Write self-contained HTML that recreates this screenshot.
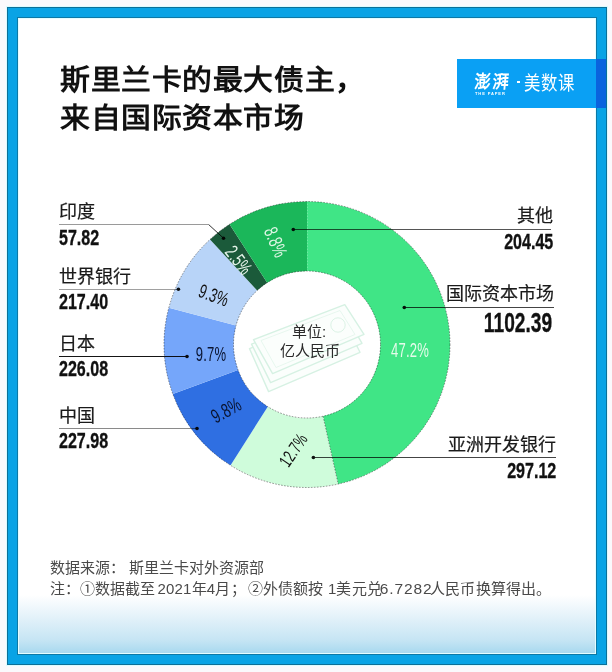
<!DOCTYPE html>
<html lang="zh-CN"><head><meta charset="utf-8">
<style>
*{margin:0;padding:0;box-sizing:border-box}
html,body{width:612px;height:672px;overflow:hidden;background:#faf9fc;font-family:"Liberation Sans",sans-serif}
#frame{position:absolute;left:7px;top:7px;width:600px;height:658px;background:#0c6f98;box-shadow:0 0 0 1px #dcfbff}
#band{position:absolute;left:8px;top:8px;width:598px;height:656px;background:#09a3e5}
#iline{position:absolute;left:17px;top:17px;width:580px;height:638px;background:#0c78a6}
#inner{position:absolute;left:18px;top:18px;width:578px;height:636px;box-shadow:inset 0 0 0 1px #e4fdff;background:linear-gradient(to bottom,#fff 0,#fff 577px,#e6f3fa 597px,#c6e5f4 622px,#a6d8ef 636px)}
.t{position:absolute;white-space:nowrap}
.title{left:60px;font-size:28px;font-weight:bold;color:#111;line-height:36px;letter-spacing:0.7px;transform:scaleX(1.065);transform-origin:0 0}
.lab{font-size:18px;color:#1a1a1a;line-height:20px;-webkit-text-stroke:0.2px #1a1a1a}
.num{font-size:22px;font-weight:bold;color:#111;-webkit-text-stroke:0.35px #111;line-height:24px;transform-origin:0 0;transform:scaleX(0.73)}
.numr{transform-origin:100% 0}
.pct{position:absolute;white-space:nowrap;font-size:19.5px;line-height:20px;height:20px;letter-spacing:0.3px}
.cen{font-size:15px;line-height:17px;color:#2a2a2a}
.foot{font-size:15px;color:#4a4a4a;line-height:20px;letter-spacing:0.2px}
#logo{position:absolute;left:457px;top:59px;width:139px;height:49px;background:#0aa0f4}
#strip{position:absolute;left:596px;top:59px;width:10px;height:49px;background:#0a63de}
</style></head><body>
<div id="frame"></div>
<div id="band"></div>
<div id="iline"></div>
<div id="inner"></div>
<div class="t title" style="top:63px">斯里兰卡的最大债主，</div>
<div class="t title" style="top:101px">来自国际资本市场</div>
<div id="logo"><div class="t" style="left:18px;top:12px;color:#fff;font-size:18px;line-height:22px;font-weight:bold;letter-spacing:3px;transform:skewX(-5deg) scaleX(0.9);transform-origin:0 0">澎湃</div><div class="t" style="left:18px;top:33px;color:#fff;font-size:4px;line-height:4px;letter-spacing:0.9px;font-weight:bold">THE PAPER</div><div class="t" style="left:60px;top:22px;width:3px;height:2px;background:#fff"></div><div class="t" style="left:67px;top:13px;color:#fff;font-size:19.5px;line-height:22px;transform:scaleX(0.84);transform-origin:0 0">美数课</div></div>
<div id="strip"></div>
<svg style="position:absolute;left:0;top:0" width="612" height="672">
<path d="M307.00,201.50 A143,143 0 0 1 338.19,484.06 L323.03,416.23 A73.5,73.5 0 0 0 307.00,271.00 Z" fill="#40e586"/>
<path d="M338.19,484.06 A143,143 0 0 1 230.59,465.37 L267.73,406.63 A73.5,73.5 0 0 0 323.03,416.23 Z" fill="#cffcdb"/>
<path d="M230.59,465.37 A143,143 0 0 1 172.80,393.88 L238.02,369.88 A73.5,73.5 0 0 0 267.73,406.63 Z" fill="#2f6fe2"/>
<path d="M172.80,393.88 A143,143 0 0 1 168.81,307.73 L235.97,325.60 A73.5,73.5 0 0 0 238.02,369.88 Z" fill="#75a6fa"/>
<path d="M168.81,307.73 A143,143 0 0 1 210.02,239.41 L257.16,290.48 A73.5,73.5 0 0 0 235.97,325.60 Z" fill="#b8d4f8"/>
<path d="M210.02,239.41 A143,143 0 0 1 229.54,224.30 L267.18,282.72 A73.5,73.5 0 0 0 257.16,290.48 Z" fill="#1b5a3a"/>
<path d="M229.54,224.30 A143,143 0 0 1 307.00,201.50 L307.00,271.00 A73.5,73.5 0 0 0 267.18,282.72 Z" fill="#1bb75a"/>
<line x1="323.03" y1="416.23" x2="338.19" y2="484.06" stroke="#1a1a1a" stroke-width="0.9" stroke-dasharray="1.6 1.4" opacity="0.5"/>
<line x1="307.5" y1="271.00" x2="307.5" y2="201.50" stroke="#8eedb4" stroke-width="1" stroke-dasharray="1.4 1.6" opacity="0.6"/>
<circle cx="307" cy="344.5" r="143" fill="none" stroke="#1a1a1a" stroke-width="0.9" stroke-dasharray="1.6 1.4" opacity="0.5"/>
<circle cx="307" cy="344.5" r="73.5" fill="none" stroke="#1a1a1a" stroke-width="0.9" stroke-dasharray="1.6 1.4" opacity="0.5"/>
</svg>
<svg style="position:absolute;left:0;top:0;mix-blend-mode:multiply" width="612" height="672">
<polyline points="59,224.5 208.6,224.5" fill="none" stroke="#9a9a9a" stroke-width="1"/>
<polyline points="208.6,224.5 223.5,238.2" fill="none" stroke="#333" stroke-width="1"/>
<circle cx="223.5" cy="238.2" r="1.8" fill="#111"/>
<line x1="59" y1="289.5" x2="178.4" y2="289.5" stroke="#a0a0a0" stroke-width="1"/>
<circle cx="178.4" cy="289.3" r="1.8" fill="#111"/>
<line x1="59" y1="356.5" x2="187" y2="356.5" stroke="#151515" stroke-width="1"/>
<circle cx="187" cy="356.5" r="1.8" fill="#111"/>
<line x1="59" y1="428.5" x2="197" y2="428.5" stroke="#8a8a8a" stroke-width="1"/>
<circle cx="197" cy="428.5" r="1.8" fill="#111"/>
<line x1="293.3" y1="229.5" x2="551" y2="229.5" stroke="#555" stroke-width="1"/>
<circle cx="293.3" cy="229.5" r="1.8" fill="#111"/>
<line x1="404.3" y1="307.5" x2="554" y2="307.5" stroke="#444" stroke-width="1"/>
<circle cx="404.3" cy="307.5" r="1.8" fill="#111"/>
<line x1="313.4" y1="457.5" x2="556" y2="457.5" stroke="#444" stroke-width="1"/>
<circle cx="313.4" cy="457.5" r="1.8" fill="#111"/>
</svg>
<svg style="position:absolute;left:0;top:0" width="612" height="672">
<g fill="#fbfefc" stroke="#d6f1e3" stroke-width="1.4" stroke-linejoin="round">
<polygon points="249.5,348.6 340.8,313.6 360,352.3 268.6,391.6"/>
<polygon points="251.5,344.1 342.8,309.1 362,343.3 270.6,382.6"/>
<polygon points="253.5,339.6 344.8,304.6 364,334.3 272.6,373.6"/>
<polygon points="261,340.5 340,310.5 355,334.5 276,367.5" fill="none" stroke-width="0.8" stroke="#e2f5eb"/>
<circle cx="338" cy="325" r="7.2" fill="none" stroke-width="1" stroke="#dcf3e6"/>
</g>
</svg>
<div class="t cen" style="left:292px;top:323px">单位:</div>
<div class="t cen" style="left:280px;top:342px">亿人民币</div>
<div class="t lab" style="left:59px;top:202.3px">印度</div>
<div class="t num" style="left:59px;top:225.8px">57.82</div>
<div class="t lab" style="left:59px;top:266.8px">世界银行</div>
<div class="t num" style="left:59px;top:290.3px">217.40</div>
<div class="t lab" style="left:59px;top:333.9px">日本</div>
<div class="t num" style="left:59px;top:357.4px">226.08</div>
<div class="t lab" style="left:59px;top:405.9px">中国</div>
<div class="t num" style="left:59px;top:429.3px">227.98</div>
<div class="t lab" style="right:59.1px;top:205.9px">其他</div>
<div class="t num numr" style="right:58.6px;top:229.8px;font-size:22px;transform:scaleX(0.73)">204.45</div>
<div class="t lab" style="right:58.1px;top:284.2px">国际资本市场</div>
<div class="t num numr" style="right:59.5px;top:311.3px;font-size:27px;transform:scaleX(0.71)">1102.39</div>
<div class="t lab" style="right:56.1px;top:435.4px">亚洲开发银行</div>
<div class="t num numr" style="right:56.1px;top:459.3px;font-size:22px;transform:scaleX(0.73)">297.12</div>
<div class="pct" style="left:410px;top:349.8px;color:#e4fbea;transform:translate(-50%,-50%) rotate(0deg) scale(0.670,1)">47.2%</div>
<div class="pct" style="left:293px;top:450.3px;color:#111;transform:translate(-50%,-50%) rotate(-56deg) scale(0.623,0.93)">12.7%</div>
<div class="pct" style="left:226px;top:410px;color:#0a1430;transform:translate(-50%,-50%) rotate(-29deg) scale(0.683,1.02)">9.8%</div>
<div class="pct" style="left:211.3px;top:354px;color:#0a1430;transform:translate(-50%,-50%) rotate(0deg) scale(0.670,1)">9.7%</div>
<div class="pct" style="left:214.2px;top:295.3px;color:#111;transform:translate(-50%,-50%) rotate(20deg) scale(0.670,1)">9.3%</div>
<div class="pct" style="left:239px;top:259.5px;color:#e6f4ea;transform:translate(-50%,-50%) rotate(52deg) scale(0.670,1)">2.5%</div>
<div class="pct" style="left:276px;top:242px;color:#e0f7e6;transform:translate(-50%,-50%) rotate(67deg) scale(0.670,1)">8.8%</div>
<div class="t foot" style="left:50.3px;top:558px;letter-spacing:0">数据来源：</div>
<div class="t foot" style="left:128.8px;top:558px;letter-spacing:0">斯里兰卡对外资源部</div>
<div class="t foot" style="left:49.8px;top:579px">注：</div>
<div class="t foot" style="left:79.6px;top:579px">①数据截至</div>
<div class="t foot" style="left:157.4px;top:579px">2021年4月；</div>
<div class="t foot" style="left:247.7px;top:579px">②外债额按</div>
<div class="t foot" style="left:327.9px;top:579px">1美元兑</div>
<div class="t foot" style="left:379.8px;top:579px;font-size:15.5px;letter-spacing:0.9px">6.7282</div>
<div class="t foot" style="left:430.1px;top:579px">人民币换算得出。</div>
</body></html>
